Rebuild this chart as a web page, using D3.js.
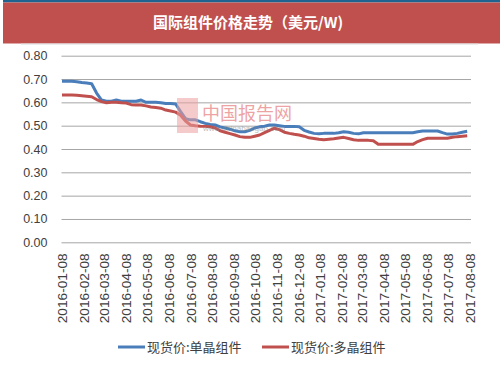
<!DOCTYPE html>
<html><head><meta charset="utf-8">
<script src="https://cdn.jsdelivr.net/npm/d3@7"></script>
<style>body{margin:0;background:#fff}svg{display:block}</style>
</head><body><svg id="c" width="503" height="378"></svg>
<script>
const title = "国际组件价格走势（美元/W)";
const seriesNames = ["现货价:单晶组件", "现货价:多晶组件"];
const startDate = "2016-01-08";
const tickLabels = ["2016-01-08","2016-02-08","2016-03-08","2016-04-08","2016-05-08","2016-06-08","2016-07-08","2016-08-08","2016-09-08","2016-10-08","2016-11-08","2016-12-08","2017-01-08","2017-02-08","2017-03-08","2017-04-08","2017-05-08","2017-06-08","2017-07-08","2017-08-08"];
const yTicks = [0,0.1,0.2,0.3,0.4,0.5,0.6,0.7,0.8];
const mono = [0.69,0.69,0.69,0.688,0.685,0.683,0.68,0.64,0.61,0.605,0.605,0.61,0.605,0.605,0.605,0.605,0.61,0.60,0.60,0.60,0.598,0.595,0.595,0.593,0.56,0.53,0.525,0.525,0.517,0.51,0.505,0.503,0.495,0.49,0.485,0.478,0.474,0.474,0.48,0.49,0.495,0.498,0.503,0.503,0.50,0.497,0.497,0.497,0.495,0.48,0.473,0.467,0.465,0.467,0.467,0.467,0.47,0.474,0.472,0.467,0.465,0.47,0.47,0.47,0.47,0.47,0.47,0.47,0.47,0.47,0.47,0.47,0.474,0.477,0.477,0.477,0.477,0.47,0.464,0.464,0.467,0.472,0.476];
const poly = [0.632,0.632,0.631,0.63,0.628,0.626,0.624,0.612,0.603,0.598,0.60,0.60,0.598,0.597,0.59,0.589,0.589,0.585,0.58,0.578,0.575,0.567,0.563,0.558,0.545,0.52,0.503,0.50,0.498,0.497,0.495,0.49,0.478,0.472,0.466,0.46,0.453,0.45,0.45,0.455,0.46,0.47,0.48,0.489,0.483,0.472,0.467,0.463,0.46,0.455,0.448,0.445,0.442,0.44,0.442,0.444,0.447,0.45,0.445,0.44,0.437,0.437,0.437,0.435,0.42,0.42,0.42,0.42,0.42,0.42,0.42,0.42,0.432,0.44,0.446,0.446,0.446,0.446,0.446,0.45,0.453,0.455,0.457];
const colors = ["#4A7EBB", "#C0504D"];

const svg = d3.select("#c");
const parse = d3.timeParse("%Y-%m-%d");
const t0 = parse(startDate);
const dates = mono.map((_, i) => d3.timeDay.offset(t0, i * 7));

// header
svg.append("rect").attr("x",3).attr("y",0).attr("width",497).attr("height",2.5).attr("fill","#1F6391");
svg.append("rect").attr("x",3).attr("y",2.5).attr("width",497).attr("height",41).attr("fill","#C0504D");
svg.append("rect").attr("x",21).attr("y",43.5).attr("width",457).attr("height",1).attr("fill","#D9D9D9");
svg.append("text").attr("x",248).attr("y",28).attr("text-anchor","middle")
  .attr("font-family","Noto Sans CJK SC").attr("font-size",15).attr("font-weight","bold")
  .attr("fill","#fff").text(title);

const x = d3.scaleTime().domain([parse(tickLabels[0]), parse(tickLabels[tickLabels.length-1])]).range([62, 470]);
const y = d3.scaleLinear().domain([0, 0.8]).range([242.3, 55.7]);

// grid
const ya = svg.append("g").attr("transform","translate(61.5,0)")
  .call(d3.axisLeft(y).tickValues(yTicks).tickFormat(d3.format(".2f")).tickSize(-409.5).tickPadding(14));
ya.select(".domain").remove();
ya.selectAll(".tick line").attr("stroke","#A6A6A6").attr("stroke-width",1);
ya.selectAll(".tick text").attr("font-family","Liberation Sans, Arial").attr("font-size",12.5).attr("fill","#404040");

// x labels
const xa = svg.append("g").attr("transform","translate(0,242.3)")
  .call(d3.axisBottom(x).tickValues(tickLabels.map(parse)).tickFormat(d3.timeFormat("%Y-%m-%d")).tickSize(0));
xa.select(".domain").remove();
xa.selectAll(".tick text").attr("font-family","Liberation Sans, Arial").attr("font-size",13).attr("fill","#404040")
  .attr("text-anchor","end").attr("transform","rotate(-90)").attr("x",-11).attr("y",0).attr("dy","0.35em")
  .attr("textLength",70).attr("lengthAdjust","spacingAndGlyphs");

// lines
const line = d3.line().x((d,i) => x(dates[i])).y(d => y(d)).curve(d3.curveLinear);
[mono, poly].forEach((s, k) => {
  svg.append("path").datum(s).attr("d", line).attr("fill","none")
    .attr("stroke", colors[k]).attr("stroke-width",3).attr("stroke-linejoin","round");
});

// watermark (on top, semi-transparent)
const wm = svg.append("g").attr("opacity",0.55);
wm.append("rect").attr("x",177).attr("y",98).attr("width",21).attr("height",35).attr("fill","#EDA0A0");
wm.append("text").attr("x",202).attr("y",119.5).attr("font-family","Noto Sans CJK SC").attr("font-size",18)
  .attr("fill","#E05858").text("中国报告网");
wm.append("text").attr("x",203).attr("y",131).attr("font-family","Liberation Sans").attr("font-size",8)
  .attr("fill","#888").text("www.chinabaogao.com");

// legend
const leg = [{x:118, tx:147}, {x:262, tx:291}];
seriesNames.forEach((n, k) => {
  svg.append("line").attr("x1",leg[k].x).attr("x2",leg[k].x+27).attr("y1",347).attr("y2",347)
    .attr("stroke",colors[k]).attr("stroke-width",3);
  svg.append("text").attr("x",leg[k].tx).attr("y",352).attr("font-family","Noto Sans CJK SC")
    .attr("font-size",13).attr("fill","#404040").text(n);
});
</script></body></html>
